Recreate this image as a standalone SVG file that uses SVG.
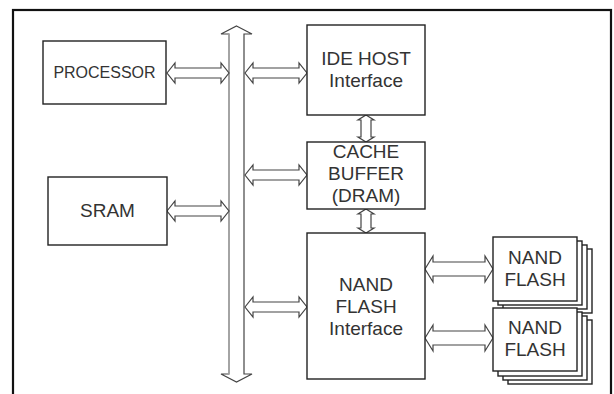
<svg xmlns="http://www.w3.org/2000/svg" width="614" height="394" viewBox="0 0 614 394">
<style>
.box{fill:#fff;stroke:#222;stroke-width:1.4}
.arr{fill:#fff;stroke:#444;stroke-width:1.2;stroke-linejoin:miter}
.t{font-family:"Liberation Sans",Arial,sans-serif;font-size:19px;fill:#333;text-anchor:middle}
.ts{font-size:16px}
</style>
<rect x="0" y="0" width="614" height="394" fill="#fff"/>
<rect x="13" y="10" width="598" height="400" fill="none" stroke="#111" stroke-width="2.2"/>
<g id="connectors">
<path class="arr" d="M236.5,26 L252,34 L244,34 L244,374 L252,374 L236.5,382 L221,374 L229,374 L229,34 L221,34 Z"/>
<line x1="229" y1="34" x2="229" y2="374" stroke="#aaa" stroke-width="1.6"/>
<path class="arr" d="M167,73 L175,63 L175,68 L221,68 L221,63 L229,73 L221,83 L221,78 L175,78 L175,83 Z"/>
<path class="arr" d="M167,211 L175,201 L175,206 L221,206 L221,201 L229,211 L221,221 L221,216 L175,216 L175,221 Z"/>
<path class="arr" d="M245,73 L253,63 L253,68 L299,68 L299,63 L307,73 L299,83 L299,78 L253,78 L253,83 Z"/>
<path class="arr" d="M245,175 L253,165 L253,170 L299,170 L299,165 L307,175 L299,185 L299,180 L253,180 L253,185 Z"/>
<path class="arr" d="M245,307 L253,297 L253,302 L299,302 L299,297 L307,307 L299,317 L299,312 L253,312 L253,317 Z"/>
<path class="arr" d="M425,269 L433,256 L433,262 L485,262 L485,256 L493,269 L485,282 L485,276 L433,276 L433,282 Z"/>
<path class="arr" d="M425,338 L433,325 L433,331 L485,331 L485,325 L493,338 L485,351 L485,345 L433,345 L433,351 Z"/>
<path class="arr" d="M366,115 L374,120 L371,120 L371,137 L374,137 L366,142 L358,137 L361,137 L361,120 L358,120 Z"/>
<path class="arr" d="M366,209 L374,214 L371,214 L371,228 L374,228 L366,233 L358,228 L361,228 L361,214 L358,214 Z"/>
</g>
<g id="processor">
<rect class="box" x="43" y="41" width="123" height="63"/>
<text class="t ts" x="104.5" y="78">PROCESSOR</text>
</g>
<g id="sram">
<rect class="box" x="48" y="177" width="119" height="68"/>
<text class="t" x="107.5" y="217">SRAM</text>
</g>
<g id="ide">
<rect class="box" x="307" y="25" width="118" height="90"/>
<text class="t" x="366" y="65">IDE HOST</text>
<text class="t" x="366" y="87">Interface</text>
</g>
<g id="cache">
<rect class="box" x="307" y="142" width="118" height="67"/>
<text class="t" x="366" y="158">CACHE</text>
<text class="t" x="366" y="180">BUFFER</text>
<text class="t" x="366" y="202">(DRAM)</text>
</g>
<g id="nandif">
<rect class="box" x="307" y="233" width="118" height="146"/>
<text class="t" x="366" y="291">NAND</text>
<text class="t" x="366" y="313">FLASH</text>
<text class="t" x="366" y="335">Interface</text>
</g>
<g id="nand1">
<rect class="box" x="508" y="249" width="84" height="64"/>
<rect class="box" x="503" y="245" width="84" height="64"/>
<rect class="box" x="498" y="241" width="84" height="64"/>
<rect class="box" x="493" y="237" width="84" height="64"/>
<text class="t" x="535" y="264">NAND</text>
<text class="t" x="535" y="286">FLASH</text>
</g>
<g id="nand2">
<rect class="box" x="508" y="320" width="84" height="64"/>
<rect class="box" x="503" y="316" width="84" height="64"/>
<rect class="box" x="498" y="312" width="84" height="64"/>
<rect class="box" x="493" y="308" width="84" height="63"/>
<text class="t" x="535" y="334">NAND</text>
<text class="t" x="535" y="356">FLASH</text>
</g>
</svg>
